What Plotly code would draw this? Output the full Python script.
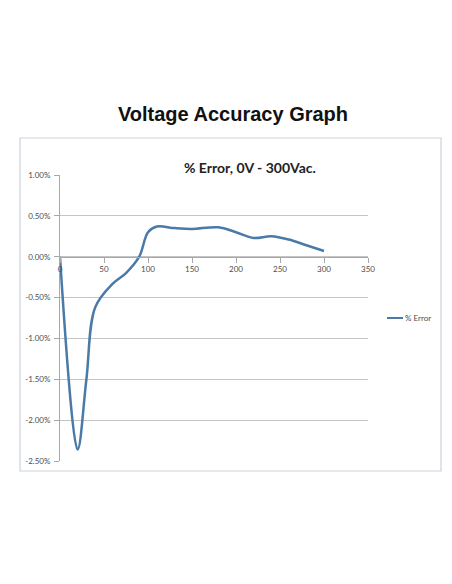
"""
Voltage Accuracy Graph - % Error, 0V - 300Vac.
"""

import plotly.graph_objects as go

# Dados
tensao = [0, 20, 30, 40, 60, 75, 90, 100, 110, 130, 150, 180, 200, 220, 240, 260, 280, 300]
erro_pct = [0.0, -2.36, -1.50, -0.62, -0.33, -0.20, 0.0, 0.30, 0.37, 0.35, 0.34, 0.36,
            0.30, 0.23, 0.25, 0.21, 0.14, 0.07]

x_ticks = [0, 50, 100, 150, 200, 250, 300, 350]
y_ticks = [1.0, 0.5, 0.0, -0.5, -1.0, -1.5, -2.0, -2.5]
y_tick_labels = ['1.00%', '0.50%', '0.00%', '-0.50%', '-1.00%', '-1.50%', '-2.00%', '-2.50%']

titulo = 'Voltage Accuracy Graph'
subtitulo = '% Error, 0V - 300Vac.'
nome_serie = '% Error'

cor_linha = '#4a7aa8'
cor_grade = '#c4c4c4'
cor_texto = '#4d4d4d'

# Posição do eixo x no zero (fração do domínio y)
y_min, y_max = -2.5, 1.0
pos_zero = (0 - y_min) / (y_max - y_min)

fig = go.Figure()

fig.add_trace(go.Scatter(x=tensao,
                         y=erro_pct,
                         mode='lines',
                         line=dict(color=cor_linha, width=2.5, shape='spline', smoothing=1.0),
                         name=nome_serie,
                         showlegend=False))

# Configurar layout (a página tem 8px de margem no body)
fig.update_layout(
    width=452,
    height=584,
    margin=dict(l=52, r=92, t=167, b=131),
    paper_bgcolor='white',
    plot_bgcolor='white',
    title=dict(text='<b>' + titulo + '</b>', x=(233 - 8) / 452, xanchor='center',
               y=1 - 106 / 584, yanchor='middle',
               font=dict(family='Liberation Sans, Arial', size=20, color='#111111')),
    xaxis=dict(range=[0, 350], tickvals=x_ticks, showgrid=False, zeroline=False,
               anchor='free', position=pos_zero, showline=True, linecolor='#a8a8a8',
               linewidth=1, ticks='outside', ticklen=5, tickcolor='#a8a8a8',
               tickfont=dict(family='Lato, Noto Sans', size=8, color=cor_texto)),
    yaxis=dict(range=[y_min, y_max], tickvals=y_ticks, ticktext=y_tick_labels,
               showgrid=True, gridcolor=cor_grade, gridwidth=1, zeroline=False,
               showline=True, linecolor='#a8a8a8', linewidth=1, ticks='outside',
               ticklen=5, tickcolor='#a8a8a8', ticklabelstandoff=2,
               tickfont=dict(family='Lato, Noto Sans', size=8, color=cor_texto)),
)

# Moldura do gráfico
fig.add_shape(type='rect', xref='paper', yref='paper',
              x0=(20 - 60) / 308, x1=(441 - 60) / 308,
              y0=(461 - 471) / 286, y1=(461 - 138) / 286,
              line=dict(color='#c9d3dc', width=1.2), layer='below')

# Subtítulo
fig.add_annotation(text='<b>' + subtitulo + '</b>', xref='paper', yref='paper',
                   x=(250 - 60) / 308, y=(461 - 157) / 286, showarrow=False,
                   font=dict(family='Lato, Noto Sans', size=14, color='#222222'))

# Legenda
fig.add_shape(type='line', xref='paper', yref='paper',
              x0=(387 - 60) / 308, x1=(403 - 60) / 308,
              y0=(461 - 318) / 286, y1=(461 - 318) / 286,
              line=dict(color=cor_linha, width=2))
fig.add_annotation(text=nome_serie, xref='paper', yref='paper',
                   x=(403 - 60) / 308, y=(461 - 318) / 286, xanchor='left', showarrow=False,
                   font=dict(family='Lato, Noto Sans', size=8, color=cor_texto))

fig.write_html('out.html')
